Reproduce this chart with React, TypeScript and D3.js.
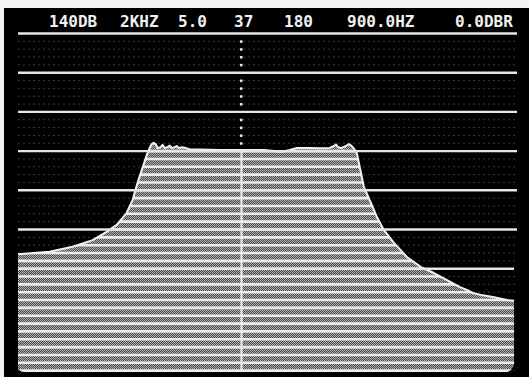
import React from "react";
import * as d3 from "d3";

// Header readouts of the analyzer
const HEADER_LABELS = ["140DB", "2KHZ", "5.0", "37", "180", "900.0HZ", "0.0DBR"];
const HEADER_X = [49, 120, 178, 234, 284, 347, 455];

// Spectrum trace: frequency (Hz) and level (dB re top line)
const FREQ = [
  0, 127, 220, 301, 357, 398, 438, 462, 482, 503, 519, 531, 539, 547, 555, 563,
  575, 583, 591, 603, 612, 620, 632, 640, 648, 664, 692, 733, 813, 894, 991,
  1035, 1060, 1096, 1124, 1177, 1217, 1257, 1274, 1282, 1290, 1306, 1322, 1334,
  1346, 1358, 1366, 1383, 1395, 1423, 1447, 1475, 1516, 1568, 1625, 1677, 1730,
  1782, 1810, 1834, 1875, 1915, 1972, 2000,
];
const LEVEL = [
  -56.3, -55.7, -54.4, -52.7, -50.6, -48.8, -45.8, -42.5, -38.1, -34.1, -31.0,
  -29.2, -28.2, -27.9, -28.2, -29.2, -29.0, -28.4, -29.2, -29.0, -28.6, -29.2,
  -29.0, -28.7, -29.2, -29.0, -29.5, -29.6, -29.7, -29.7, -29.7, -30.0, -30.2,
  -29.7, -29.2, -29.2, -29.3, -29.2, -28.7, -28.3, -29.0, -29.2, -28.7, -28.2,
  -28.7, -29.7, -30.5, -35.6, -39.2, -43.2, -46.8, -50.1, -53.4, -57.0, -59.6,
  -61.1, -62.9, -64.7, -65.4, -66.2, -66.8, -67.2, -68.0, -68.2,
];

const GRID_LEVELS = [0, -10, -20, -30, -40, -50, -60, -70, -80];
const RASTER_LEVELS = d3.range(0, -87, -2);
const MARKER_HZ = 900;
const FLOOR_DB = -86.4;

export default function App() {
  const W = 529;
  const H = 377;
  const x = d3.scaleLinear().domain([0, 2000]).range([18, 514]);
  const y = d3.scaleLinear().domain([0, -80]).range([33.5, 347.1]);
  const pts = FREQ.map((f, i) => [f, LEVEL[i]] as [number, number]);
  const area = d3
    .area<[number, number]>()
    .x((d) => x(d[0]))
    .y0(y(FLOOR_DB))
    .y1((d) => y(d[1]));
  const line = d3
    .line<[number, number]>()
    .x((d) => x(d[0]))
    .y((d) => y(d[1]));
  const areaD = area(pts) || "";
  const lineD = line(pts) || "";
  const mx = Math.round(x(MARKER_HZ)) + 0.5;
  const markerTop = y(d3.scaleLinear().domain(FREQ).range(LEVEL)(MARKER_HZ) as number);
  const gridX0 = 18;
  const gridX1 = 517;

  return (
    <svg
      width={W}
      height={H}
      style={{ position: "absolute", left: 0, top: 0, display: "block" }}
    >
      <defs>
        <pattern id="dither" width="2" height="2" patternUnits="userSpaceOnUse">
          <rect width="2" height="2" fill="#4a4a4a" />
          <rect width="1" height="1" fill="#b8b8b8" />
          <rect x="1" y="1" width="1" height="1" fill="#a8a8a8" />
        </pattern>
        <clipPath id="areaClip">
          <path d={areaD} />
        </clipPath>
        <clipPath id="screenClip">
          <rect x={gridX0 - 2} y={0} width={x(2000) - gridX0 + 2} height={y(FLOOR_DB)} rx={9} ry={9} />
        </clipPath>
      </defs>
      <rect width={W} height={H} fill="#f4f4f4" />
      <rect x={4} y={8} width={W - 4} height={H - 8} fill="#000" />

      {/* faint raster lines in the empty screen */}
      {RASTER_LEVELS.filter((l) => l % 10 !== 0).map((l) => (
        <line
          key={"r" + l}
          x1={gridX0}
          x2={gridX1}
          y1={y(l)}
          y2={y(l)}
          stroke="#3a3a3a"
          strokeWidth={1}
          strokeDasharray="2 3"
        />
      ))}

      {/* marker dots above trace */}
      {RASTER_LEVELS.filter((l) => l % 10 !== 0 && y(l) < markerTop - 2).map((l) => (
        <rect key={"d" + l} x={mx - 1.5} y={y(l) - 1} width={2.5} height={2.5} fill="#e8e8e8" />
      ))}

      {/* filled spectrum */}
      <g clipPath="url(#screenClip)">
        <g clipPath="url(#areaClip)">
          <rect x={0} y={0} width={W} height={H} fill="url(#dither)" />
          {RASTER_LEVELS.map((l) => (
            <line
              key={"s" + l}
              x1={0}
              x2={W}
              y1={y(l)}
              y2={y(l)}
              stroke="#ececec"
              strokeWidth={2.6}
            />
          ))}
          <line x1={mx} x2={mx} y1={0} y2={H} stroke="#efefef" strokeWidth={2} />
        </g>
      </g>
      <path d={lineD} fill="none" stroke="#f2f2f2" strokeWidth={2} strokeLinejoin="round" />

      {/* graticule */}
      {GRID_LEVELS.map((l) => (
        <line
          key={"g" + l}
          x1={gridX0}
          x2={l < -55 ? x(2000) : gridX1}
          y1={y(l)}
          y2={y(l)}
          stroke="#e6e6e6"
          strokeWidth={2.4}
        />
      ))}

      {HEADER_LABELS.map((t, i) => (
        <text
          key={t}
          x={HEADER_X[i]}
          y={27}
          fill="#f0f0f0"
          fontFamily="'DejaVu Sans Mono', monospace"
          fontWeight="bold"
          fontSize={16}
        >
          {t}
        </text>
      ))}
    </svg>
  );
}
